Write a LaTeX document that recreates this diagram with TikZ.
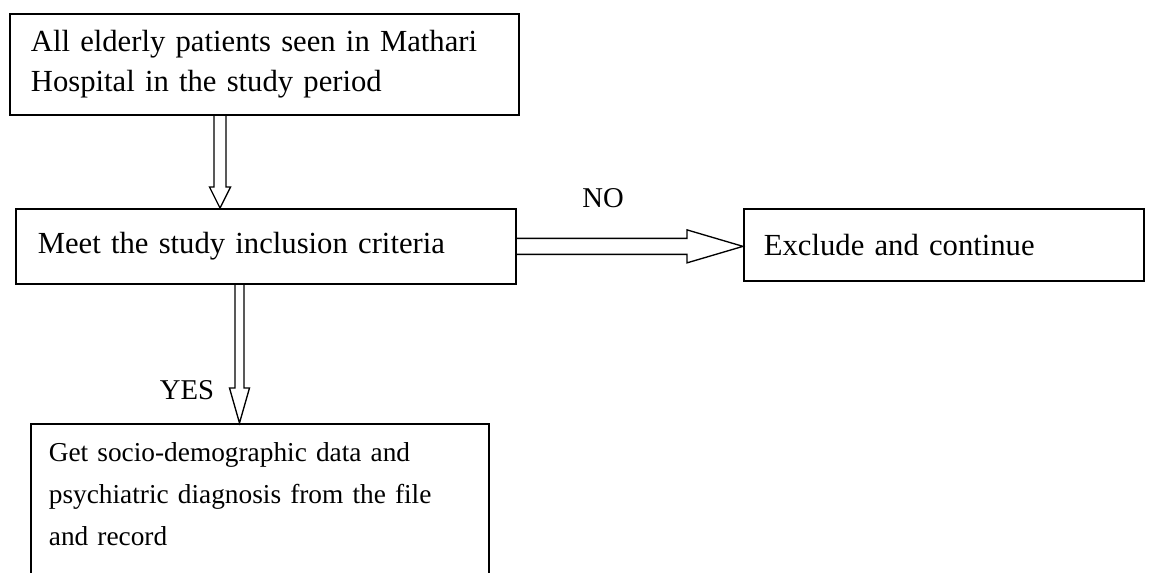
\documentclass[tikz,border=0pt]{standalone}
\usepackage{fontspec}
\setmainfont{Liberation Serif}
\usetikzlibrary{calc, positioning}
\tikzset{
    box/.style={rectangle, draw=black, line width=1.3pt, anchor=north west, align=left,
        inner ysep=0pt, font=\fontsize{23}{30}\selectfont},
    blk/.style={draw=black, line width=1pt, line join=miter},
    lbl/.style={font=\fontsize{21.5}{26}\selectfont},
}
% hollow block arrows: from, to, half shaft, half head, head length
\newcommand{\blockdown}[5]{\draw[blk] ($(#1)+(-#3,0)$) -- ($(#2)+(-#3,-#5)$) -- ($(#2)+(-#4,-#5)$) -- (#2)
    -- ($(#2)+(#4,-#5)$) -- ($(#2)+(#3,-#5)$) -- ($(#1)+(#3,0)$);}
\newcommand{\blockright}[5]{\draw[blk] ($(#1)+(0,-#3)$) -- ($(#2)+(-#5,-#3)$) -- ($(#2)+(-#5,-#4)$) -- (#2)
    -- ($(#2)+(-#5,#4)$) -- ($(#2)+(-#5,#3)$) -- ($(#1)+(0,#3)$);}
\begin{document}
\begin{tikzpicture}[x=0.75pt, y=-0.75pt]
    \clip (0,0) rectangle (1150,572);
    \useasboundingbox (0,0) rectangle (1150,572);
    \node[box, inner xsep=15.75pt, text width=350.25pt, minimum height=75.75pt] (all) at (9,13)
        {All elderly patients seen in Mathari\\Hospital in the study period};
    \node[box, inner xsep=16.5pt, text width=342pt, minimum height=56.25pt] (meet) at (15,208)
        {Meet the study inclusion criteria};
    \node[box, inner xsep=15pt, text width=270pt, minimum height=54pt] (excl) at (743,208)
        {Exclude and continue};
    % box runs past the lower edge of the page
    \node[box, inner xsep=13.5pt, text width=316.5pt, inner ysep=14pt, text depth=110pt,
        font=\fontsize{20.5}{31.5}\selectfont] (data) at (30,423)
        {Get socio-demographic data and\\psychiatric diagnosis from the file\\and record};
    \node[lbl] (no) at (603,198) {NO};
    \node[lbl] (yes) at (187,390) {YES};
    % connectors
    \coordinate (s1) at ($(all.south west)+(211,0)$);
    \coordinate (e1) at (s1 |- meet.north);
    \blockdown{s1}{e1}{6}{10.5}{21}
    \coordinate (s2) at ($(meet.south west)+(224.5,0)$);
    \coordinate (e2) at (s2 |- data.north);
    \blockdown{s2}{e2}{4.5}{10}{35}
    \coordinate (e3) at (meet.east -| excl.west);
    \blockright{meet.east}{e3}{8}{16.5}{56}
\end{tikzpicture}
\end{document}
